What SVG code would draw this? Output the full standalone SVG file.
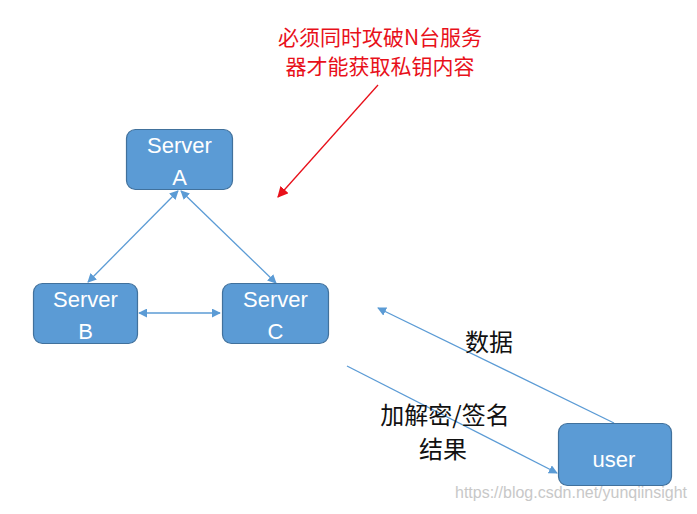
<svg xmlns="http://www.w3.org/2000/svg" width="697" height="514" viewBox="0 0 697 514">
<defs>
<style>
.box{fill:#5b9bd5;stroke:#41719c;stroke-width:1.2}
.nt{fill:#fff;font-family:"Liberation Sans","Noto Sans",sans-serif;font-size:22px;text-anchor:middle}
.ln{stroke:#5b9bd5;stroke-width:1.3;fill:none}
.lbl{fill:#111;font-family:"Noto Sans CJK SC","Liberation Sans",sans-serif;font-size:24px;text-anchor:middle}
.red{fill:#e8101a;font-family:"Noto Sans CJK SC","Liberation Sans",sans-serif;font-size:21px;text-anchor:middle}
</style>
<marker id="ab" viewBox="0 0 10 10" refX="9" refY="5" markerWidth="9" markerHeight="9" markerUnits="userSpaceOnUse" orient="auto-start-reverse">
<path d="M0,0 L10,5 L0,10 z" fill="#5b9bd5"/>
</marker>
<marker id="ar" viewBox="0 0 10 10" refX="9" refY="5" markerWidth="11" markerHeight="11" markerUnits="userSpaceOnUse" orient="auto">
<path d="M0,0 L10,5 L0,10 z" fill="#e8101a"/>
</marker>
</defs>
<rect width="697" height="514" fill="#fff"/>
<g id="connectors">
<line class="ln" x1="178" y1="191" x2="88" y2="282" marker-start="url(#ab)" marker-end="url(#ab)"/>
<line class="ln" x1="181" y1="191" x2="276" y2="283" marker-start="url(#ab)" marker-end="url(#ab)"/>
<line class="ln" x1="139" y1="313" x2="220" y2="313" marker-start="url(#ab)" marker-end="url(#ab)"/>
<line class="ln" x1="614" y1="423" x2="378" y2="308" marker-end="url(#ab)"/>
<line class="ln" x1="347" y1="366" x2="557" y2="473" marker-end="url(#ab)"/>
<line x1="378" y1="85" x2="278" y2="197" stroke="#e8101a" stroke-width="1.3" marker-end="url(#ar)"/>
</g>
<g id="serverA">
<rect class="box" x="126.5" y="129.5" width="106" height="60" rx="9"/>
<text class="nt" x="179.5" y="153">Server</text>
<text class="nt" x="179.5" y="185">A</text>
</g>
<g id="serverB">
<rect class="box" x="33.5" y="283.5" width="104" height="60" rx="9"/>
<text class="nt" x="85.5" y="307">Server</text>
<text class="nt" x="85.5" y="339">B</text>
</g>
<g id="serverC">
<rect class="box" x="222.5" y="283.5" width="106" height="60" rx="9"/>
<text class="nt" x="275.5" y="307">Server</text>
<text class="nt" x="275.5" y="339">C</text>
</g>
<g id="user">
<rect class="box" x="558.5" y="423.5" width="113" height="62" rx="9"/>
<text class="nt" x="614" y="467">user</text>
</g>
<g id="labels">
<text class="red" x="380" y="45">必须同时攻破N台服务</text>
<text class="red" x="380" y="74">器才能获取私钥内容</text>
<text class="lbl" x="489" y="351">数据</text>
<text class="lbl" x="445" y="424">加解密/签名</text>
<text class="lbl" x="443" y="458">结果</text>
</g>
<text x="455" y="498" fill="#c8c8c8" font-family="Liberation Sans,sans-serif" font-size="16" textLength="232" lengthAdjust="spacingAndGlyphs">https://blog.csdn.net/yunqiinsight</text>
</svg>
